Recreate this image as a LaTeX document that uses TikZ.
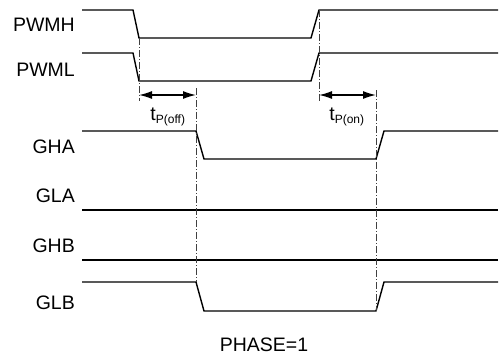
\documentclass[tikz,border=0pt]{standalone}
\usepackage{fontspec}
\setmainfont{Liberation Sans}
\usetikzlibrary{arrows.meta}
\begin{document}
\begin{tikzpicture}[x=1pt,y=-1pt,
  sig/.style={line width=1.4pt,line join=miter},
  guide/.style={line width=0.7pt,black!75,dash pattern=on 7pt off 2pt on 1pt off 2pt},
  dim/.style={line width=1.4pt,{Latex[length=13pt,width=8pt]}-{Latex[length=13pt,width=8pt]}},
  lbl/.style={anchor=east,inner sep=0pt,font=\fontsize{19.5}{19.5}\selectfont},
  tlbl/.style={inner sep=0pt,font=\fontsize{19.5}{19.5}\selectfont}]
\useasboundingbox (0,0) rectangle (503,356);
% labels
\node[lbl] (lpwmh) at (75,25) {PWMH};
\node[lbl] (lpwml) at (75,70) {PWML};
\node[lbl] (lgha) at (75,147) {GHA};
\node[lbl] (lgla) at (75,196) {GLA};
\node[lbl] (lghb) at (75,246) {GHB};
\node[lbl] (lglb) at (75,303) {GLB};
\node[tlbl] (phase) at (264,345) {PHASE=1};
% signals
\draw[sig] (82,10) -- (133,10) -- (139,38) -- (311,38) -- (319,10) -- (498,10);
\draw[sig] (82,53) -- (133,53) -- (139,81) -- (311,81) -- (319,53) -- (498,53);
\draw[sig] (82,131) -- (196,131) -- (204,159) -- (376,159) -- (384,131) -- (498,131);
\draw[sig] (82,210) -- (498,210);
\draw[sig] (82,260) -- (498,260);
\draw[sig] (82,282) -- (196,282) -- (204,311) -- (376,311) -- (384,282) -- (498,282);
% guides
\coordinate (g1t) at (139,38);
\coordinate (g1b) at (139,101);
\coordinate (g2t) at (196,88);
\coordinate (g2b) at (196,282);
\coordinate (g3t) at (319,10);
\coordinate (g3b) at (319,101);
\coordinate (g4t) at (376,90);
\coordinate (g4b) at (376,311);
\draw[guide] (g1t) -- (g1b);
\draw[guide] (g2t) -- (g2b);
\draw[guide] (g3t) -- (g3b);
\draw[guide] (g4t) -- (g4b);
% dimension arrows
\coordinate (a1) at (139,95);
\coordinate (a2) at (196,95);
\coordinate (a3) at (319,95);
\coordinate (a4) at (376,95);
\draw[dim] (a1) -- (a2);
\draw[dim] (a3) -- (a4);
\node[tlbl] (toff) at (168,117) {t\textsubscript{\fontsize{12}{12}\selectfont P(off)}};
\node[tlbl] (ton) at (347,117) {t\textsubscript{\fontsize{12}{12}\selectfont P(on)}};
\end{tikzpicture}
\end{document}
